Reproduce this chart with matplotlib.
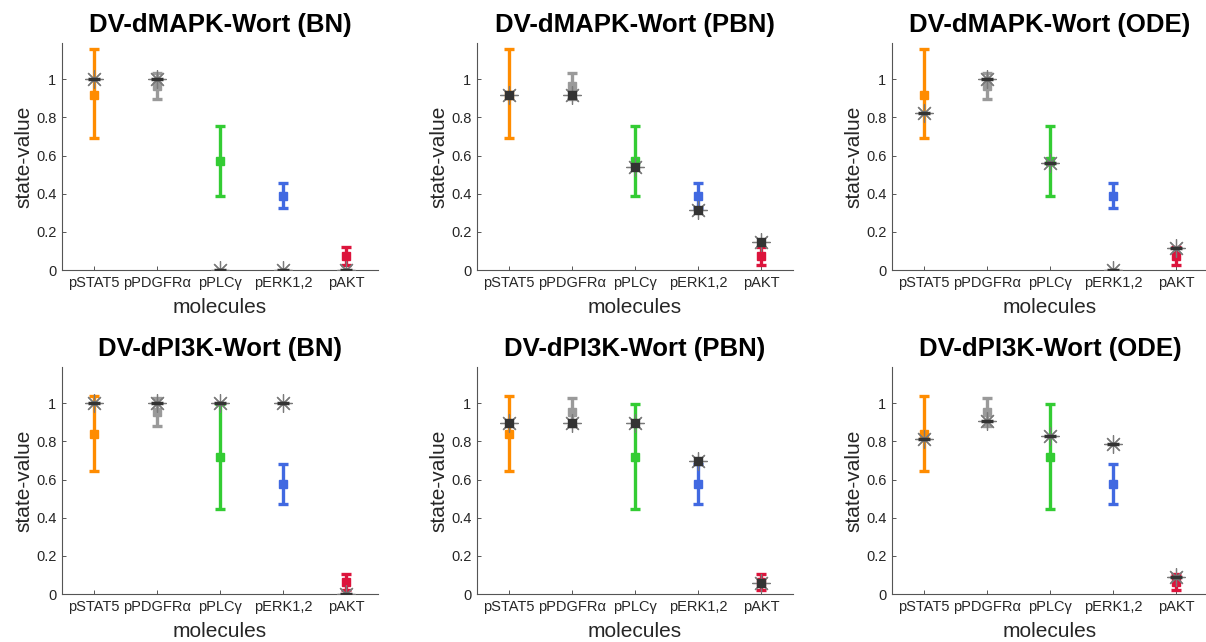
import numpy as np
import matplotlib.pyplot as plt
from matplotlib.ticker import FixedLocator, FuncFormatter

plt.rcParams["font.family"] = ["Liberation Sans", "DejaVu Sans"]

# ---------------------------------
# Datos
# ---------------------------------

molecules = ["pSTAT5", "pPDGFRα", "pPLCγ", "pERK1,2", "pAKT"]
colors = ["#FF8C00", "#9A9A9A", "#33CC33", "#4169E1", "#DC143C"]

# experimental (media, inferior, superior)
exp_mapk_mean = [0.92, 0.965, 0.57, 0.39, 0.075]
exp_mapk_low = [0.69, 0.895, 0.39, 0.325, 0.025]
exp_mapk_high = [1.16, 1.035, 0.755, 0.455, 0.12]

exp_pi3k_mean = [0.84, 0.955, 0.72, 0.575, 0.065]
exp_pi3k_low = [0.645, 0.88, 0.445, 0.47, 0.02]
exp_pi3k_high = [1.04, 1.03, 0.995, 0.68, 0.105]

# modelos
mapk_bn = [1.0, 1.0, 0.0, 0.0, 0.0]
mapk_pbn = [0.915, 0.915, 0.54, 0.315, 0.145]
mapk_ode = [0.825, 1.0, 0.56, 0.0, 0.115]

pi3k_bn = [1.0, 1.0, 1.0, 1.0, 0.0]
pi3k_pbn = [0.895, 0.895, 0.895, 0.695, 0.06]
pi3k_ode = [0.81, 0.905, 0.83, 0.785, 0.09]

panels = [
    ("DV-dMAPK-Wort (BN)", "mapk", mapk_bn, "BN"),
    ("DV-dMAPK-Wort (PBN)", "mapk", mapk_pbn, "PBN"),
    ("DV-dMAPK-Wort (ODE)", "mapk", mapk_ode, "ODE"),
    ("DV-dPI3K-Wort (BN)", "pi3k", pi3k_bn, "BN"),
    ("DV-dPI3K-Wort (PBN)", "pi3k", pi3k_pbn, "PBN"),
    ("DV-dPI3K-Wort (ODE)", "pi3k", pi3k_ode, "ODE"),
]

exp_data = {
    "mapk": (exp_mapk_mean, exp_mapk_low, exp_mapk_high),
    "pi3k": (exp_pi3k_mean, exp_pi3k_low, exp_pi3k_high),
}

# ---------------------------------
# Figura
# ---------------------------------

W, H = 1206, 642
fig = plt.figure(figsize=(W / 100, H / 100), dpi=100)

lefts = [62, 477, 892]
tops = [43, 367]
aw, ah = 316, 227

axis_col = "#555555"
text_col = "#262626"

x = np.arange(1, len(molecules) + 1)

for i, (title, key, model, kind) in enumerate(panels):

    row, col = divmod(i, 3)

    ax = fig.add_axes([
        lefts[col] / W,
        (H - tops[row] - ah) / H,
        aw / W,
        ah / H
    ])

    mean, low, high = exp_data[key]

    for j in range(len(molecules)):

        ax.errorbar(
            x[j],
            mean[j],
            yerr=[[mean[j] - low[j]], [high[j] - mean[j]]],
            fmt="s",
            color=colors[j],
            ms=6,
            elinewidth=2.4,
            capsize=3.5,
            capthick=2.4,
            zorder=2
        )

    # modelo
    ax.plot(
        x,
        model,
        ls="none",
        marker=(8, 2, 0),
        ms=13,
        mew=0.9,
        color="#7a7a7a",
        zorder=3
    )

    if kind == "PBN":
        ax.plot(x, model, ls="none", marker="s", ms=6,
                color="#333333", zorder=4)
    else:
        ax.plot(x, model, ls="none", marker="_", ms=8, mew=2.5,
                color="#333333", zorder=4)

    ax.set_xlim(0.5, 5.5)
    ax.set_ylim(0, 1.19)

    ax.yaxis.set_major_locator(FixedLocator([0, 0.2, 0.4, 0.6, 0.8, 1.0]))
    ax.yaxis.set_major_formatter(FuncFormatter(lambda v, p: f"{v:g}"))

    ax.set_xticks(x)
    ax.set_xticklabels(molecules)

    for s in ("top", "right"):
        ax.spines[s].set_visible(False)

    for s in ("left", "bottom"):
        ax.spines[s].set_color(axis_col)
        ax.spines[s].set_linewidth(0.8)

    ax.tick_params(
        direction="in",
        length=3,
        width=0.7,
        color=axis_col,
        labelcolor=text_col,
        labelsize=10.5,
        pad=4
    )

    ax.set_title(title, fontsize=18.5, fontweight="bold", pad=8)

    ax.set_ylabel("state-value", fontsize=15, color=text_col)
    ax.set_xlabel("molecules", fontsize=15, color=text_col)

    ax.yaxis.set_label_coords(-0.09, 0.5)
    ax.xaxis.set_label_coords(0.5, -0.125)

fig.savefig("out.png", dpi=100)
